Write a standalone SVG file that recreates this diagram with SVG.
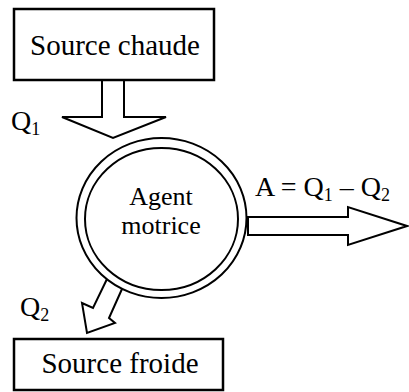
<svg xmlns="http://www.w3.org/2000/svg" width="409" height="392" viewBox="0 0 409 392">
<style>
.box{fill:#fff;stroke:#000;stroke-width:2.5}
.arr{fill:#fff;stroke:#000;stroke-width:2;stroke-linejoin:miter}
.ring{fill:none;stroke:#000;stroke-width:2}
text{font-family:"Liberation Serif","Times New Roman",serif;fill:#000}
.t{font-size:29px;text-anchor:middle}
.c{font-size:26px;text-anchor:middle}
.l{font-size:28px}
.s{font-size:18px}
</style>
<rect width="409" height="392" fill="#fff"/>
<g id="connectors">
<polygon class="arr" points="102,80 124,80 124,117 166,117 113,138 62,117 102,117"/>
<polygon class="arr" points="248,217 348,217 348,207 407,226 348,245 348,235 248,235"/>
<polyline class="arr" points="107,279 93,308 82,303 87,333 115,323 109,318 122,289"/>
</g>
<g id="source-chaude">
<rect class="box" x="14" y="9" width="200" height="71"/>
<text class="t" x="115" y="55">Source chaude</text>
</g>
<g id="agent-motrice">
<ellipse class="ring" cx="161.5" cy="218" rx="85" ry="80"/>
<ellipse class="ring" cx="161.5" cy="219" rx="76.5" ry="71"/>
<text class="c" x="161" y="205">Agent</text>
<text class="c" x="161" y="234">motrice</text>
</g>
<g id="source-froide">
<rect class="box" x="14" y="339" width="209" height="51"/>
<text class="t" x="120" y="373">Source froide</text>
</g>
<g id="labels">
<text class="l" x="11" y="130">Q<tspan class="s" dy="5">1</tspan></text>
<text class="l" x="20" y="316">Q<tspan class="s" dy="5">2</tspan></text>
<text class="l" x="255" y="196">A = Q<tspan class="s" dy="5">1</tspan><tspan dy="-5"> – Q</tspan><tspan class="s" dy="5">2</tspan></text>
</g>
</svg>
